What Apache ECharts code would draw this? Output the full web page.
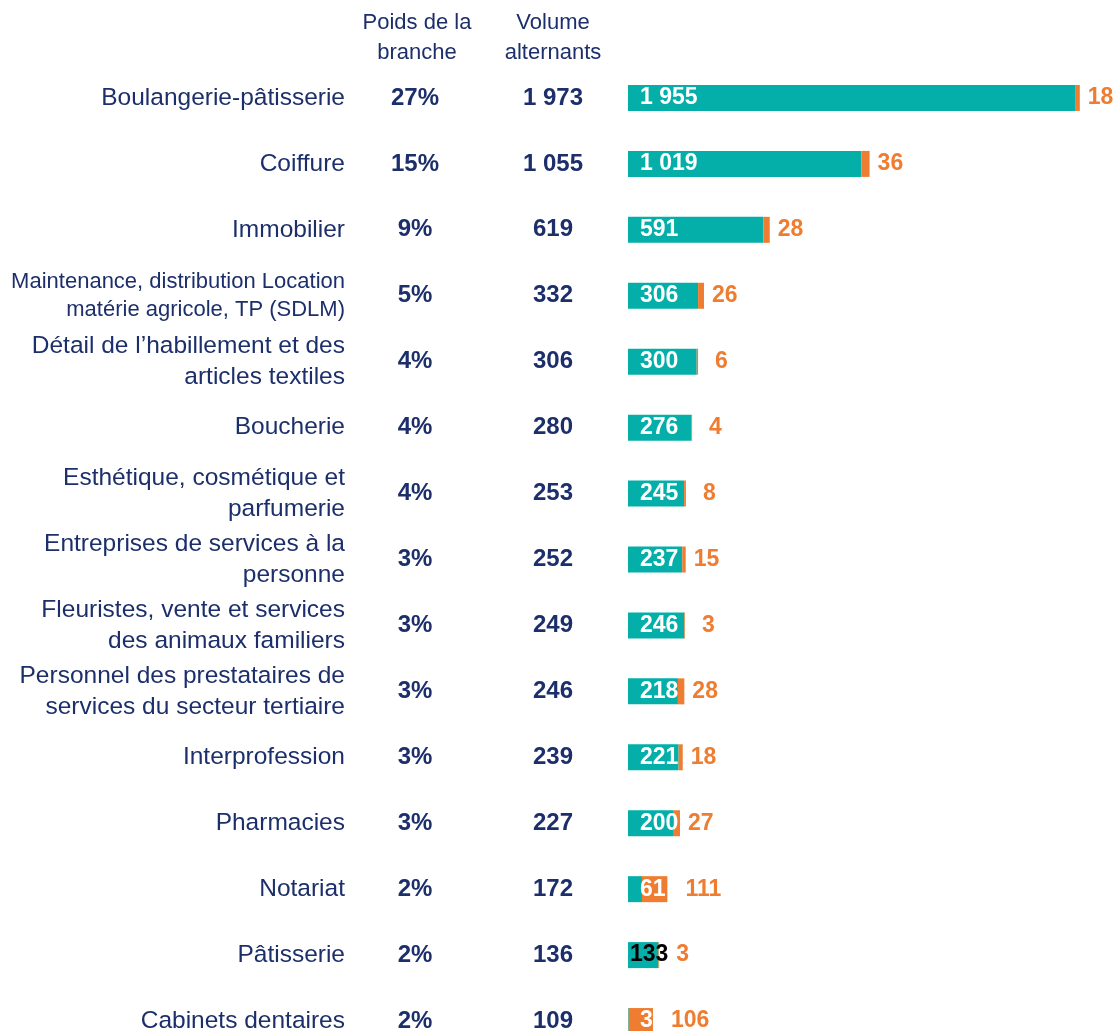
<!DOCTYPE html>
<html>
<head>
<meta charset="utf-8">
<script src="https://cdn.jsdelivr.net/npm/echarts@6/dist/echarts.min.js"></script>
<style>
  html, body { margin: 0; padding: 0; background: #fff; }
  #chart { width: 1118px; height: 1031px; }
</style>
</head>
<body>
<div id="chart"></div>
<script>
// branches
var categories = [
    'Boulangerie-pâtisserie',
    'Coiffure',
    'Immobilier',
    'Maintenance, distribution Location\nmatérie agricole, TP (SDLM)',
    'Détail de l’habillement et des\narticles textiles',
    'Boucherie',
    'Esthétique, cosmétique et\nparfumerie',
    'Entreprises de services à la\npersonne',
    'Fleuristes, vente et services\ndes animaux familiers',
    'Personnel des prestataires de\nservices du secteur tertiaire',
    'Interprofession',
    'Pharmacies',
    'Notariat',
    'Pâtisserie',
    'Cabinets dentaires'
]
var poids = ['27%', '15%', '9%', '5%', '4%', '4%', '4%', '3%', '3%', '3%', '3%', '3%', '2%', '2%', '2%']
var volume = ['1 973', '1 055', '619', '332', '306', '280', '253', '252', '249', '246', '239', '227', '172', '136', '109']
// segments des barres
var serieTeal = [1955, 1019, 591, 306, 300, 276, 245, 237, 246, 218, 221, 200, 61, 133, 3]
var serieOrange = [18, 36, 28, 26, 6, 4, 8, 15, 3, 28, 18, 27, 111, 3, 106]

var navy = '#1c2f6b'
var teal = '#03afa8'
var orange = '#ef7d31'
var font = "'Liberation Sans', Arial, sans-serif"

var myChart = echarts.init(document.getElementById('chart'))

// formatage "1 955"
function fmt(v){
    return String(v).replace(/\B(?=(\d{3})+(?!\d))/g, ' ')
}

var catData = categories.map(function(c){
    // le libellé SDLM est un peu plus petit
    if(c.indexOf('SDLM') > -1) return { value: c, textStyle: { fontSize: 22, lineHeight: 28 } }
    return c
})

var tealData = serieTeal.map(function(v, i){
    var item = { value: v }
    if(categories[i] === 'Pâtisserie'){
        item.label = { color: '#000', distance: 2 }
    }
    return item
})
var orangeData = serieOrange.map(function(v){
    var d = v < 10 ? 17 : (v >= 100 ? 18 : 8)
    return { value: v, label: { distance: d } }
})

function hiddenAxis(data){
    return {
        type: 'category',
        position: 'left',
        inverse: true,
        data: data,
        axisLine: { show: false },
        axisTick: { show: false },
        splitLine: { show: false }
    }
}

var option = {
    animation: false,
    backgroundColor: '#fff',
    grid: {
        left: 628,
        width: 458,
        top: 65,
        height: 989,
        containLabel: false,
        outerBoundsMode: 'none'
    },
    xAxis: {
        type: 'value',
        min: 0,
        max: 2000,
        show: false
    },
    yAxis: [
        Object.assign(hiddenAxis(catData), {
            axisLabel: {
                interval: 0,
                margin: 283,
                align: 'right',
                color: navy,
                fontFamily: font,
                fontSize: 24.5,
                lineHeight: 31
            }
        }),
        Object.assign(hiddenAxis(categories), {
            axisLabel: {
                interval: 0,
                margin: 213,
                align: 'center',
                color: navy,
                fontFamily: font,
                fontSize: 24,
                fontWeight: 'bold',
                formatter: function(v, i){ return poids[i] }
            }
        }),
        Object.assign(hiddenAxis(categories), {
            axisLabel: {
                interval: 0,
                margin: 75,
                align: 'center',
                color: navy,
                fontFamily: font,
                fontSize: 24,
                fontWeight: 'bold',
                formatter: function(v, i){ return volume[i] }
            }
        })
    ],
    graphic: [
        {
            type: 'text',
            x: 417,
            y: 8,
            style: {
                text: 'Poids de la\nbranche',
                align: 'center',
                verticalAlign: 'top',
                font: '22px ' + font,
                lineHeight: 30,
                fill: navy
            }
        },
        {
            type: 'text',
            x: 553,
            y: 8,
            style: {
                text: 'Volume\nalternants',
                align: 'center',
                verticalAlign: 'top',
                font: '22px ' + font,
                lineHeight: 30,
                fill: navy
            }
        }
    ],
    series: [
        {
            name: 'teal',
            type: 'bar',
            stack: 'total',
            yAxisIndex: 0,
            barWidth: 26,
            itemStyle: { color: teal },
            label: {
                show: true,
                position: 'insideLeft',
                distance: 12,
                color: '#fff',
                fontFamily: font,
                fontSize: 23,
                fontWeight: 'bold',
                formatter: function(p){ return fmt(p.value) }
            },
            data: tealData
        },
        {
            name: 'orange',
            type: 'bar',
            stack: 'total',
            yAxisIndex: 0,
            barWidth: 26,
            itemStyle: { color: orange },
            label: {
                show: true,
                position: 'right',
                color: orange,
                fontFamily: font,
                fontSize: 23,
                fontWeight: 'bold'
            },
            data: orangeData
        }
    ]
}
myChart.setOption(option)
</script>
</body>
</html>
